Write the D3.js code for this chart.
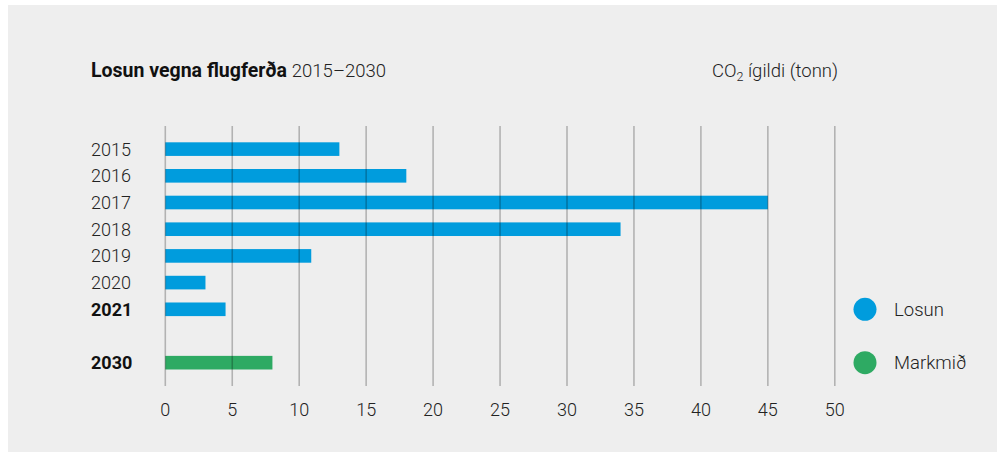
<!DOCTYPE html>
<html><head><meta charset="utf-8">
<script src="https://cdn.jsdelivr.net/npm/d3@7/dist/d3.min.js"></script>
<style>
html,body{margin:0;padding:0;background:#fff;}
text{font-family:Roboto,"Noto Sans",sans-serif;}
</style></head>
<body>
<svg id="chart" width="997" height="452"></svg>
<script>
const categories = ["2015","2016","2017","2018","2019","2020","2021","","2030"];
const values = [13, 18, 45, 34, 10.9, 3, 4.5, null, 8];
const series = ["losun","losun","losun","losun","losun","losun","losun",null,"markmid"];
const boldCats = ["2021","2030"];
const xTicks = [0,5,10,15,20,25,30,35,40,45,50];
const legendItems = [{key:"losun", label:"Losun"},{key:"markmid", label:"Markmið"}];
const colors = {losun:"#009cdd", markmid:"#2eaa63"};

const svg = d3.select("#chart");
svg.append("rect").attr("x",8).attr("y",5).attr("width",989).attr("height",447).attr("fill","#eeeeee");

const x = d3.scaleLinear().domain([0,50]).range([165.3,834.8]);
const y = d3.scaleBand().domain(categories).range([134.3,377.5]).paddingInner(0.49).paddingOuter(0.3);

// bars
const data = categories.map((c,i)=>({c, v:values[i], s:series[i]})).filter(d=>d.v!=null);
svg.append("g").selectAll("rect").data(data).join("rect")
  .attr("x", x(0)).attr("y", d=>y(d.c)).attr("width", d=>x(d.v)-x(0)).attr("height", y.bandwidth())
  .attr("fill", d=>colors[d.s]);

// grid lines on top
svg.append("g").selectAll("line").data(xTicks).join("line")
  .attr("x1", d=>x(d)).attr("x2", d=>x(d)).attr("y1",126).attr("y2",386)
  .attr("stroke","#000").attr("stroke-opacity",0.25).attr("stroke-width",1.6);

// x tick labels
svg.append("g").selectAll("text").data(xTicks).join("text")
  .attr("x", d=>x(d)).attr("y", 416).attr("text-anchor","middle")
  .attr("font-size",18).attr("font-weight",300).attr("fill","#222").text(d=>d);

// y labels
svg.append("g").selectAll("text").data(categories.filter(c=>c!=="")).join("text")
  .attr("x", 91).attr("y", d=>y(d)+y.bandwidth()/2+6.5)
  .attr("font-size",18).attr("font-weight", d=>boldCats.includes(d)?700:300)
  .attr("fill", d=>boldCats.includes(d)?"#111":"#222").text(d=>d);

// title
const t = svg.append("text").attr("x",91).attr("y",77).attr("fill","#111");
t.append("tspan").attr("font-weight",700).attr("font-size",19.5).text("Losun vegna flugferða ");
t.append("tspan").attr("font-weight",300).attr("font-size",18.5).attr("fill","#222").text("2015–2030");

// unit label
const u = svg.append("text").attr("x",712).attr("y",77).attr("font-size",18.5).attr("font-weight",300).attr("fill","#222");
u.append("tspan").text("CO");
u.append("tspan").attr("font-size",12.5).attr("dy",4).text("2");
u.append("tspan").attr("dy",-4).text(" ígildi (tonn)");

// legend
const lg = svg.append("g").selectAll("g").data(legendItems).join("g")
  .attr("transform",(d,i)=>`translate(865,${309.3 + i*53.4})`);
lg.append("circle").attr("r",11.5).attr("fill",d=>colors[d.key]);
lg.append("text").attr("x",29).attr("y",6.5).attr("font-size",18.5).attr("font-weight",300).attr("fill","#222").text(d=>d.label);
</script>
</body></html>
